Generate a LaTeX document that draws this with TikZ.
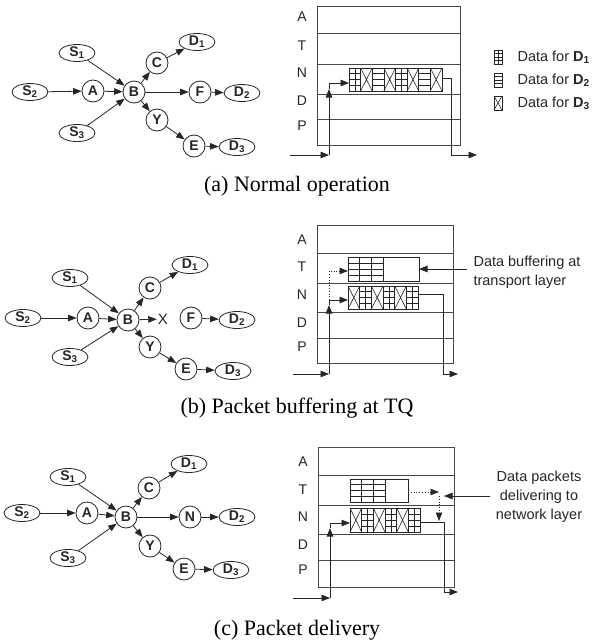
\documentclass[tikz,border=0pt]{standalone}
\usepackage{fontspec}
\setmainfont{Liberation Sans}
\newfontfamily\capfont{Liberation Serif}
\usetikzlibrary{arrows.meta,shapes.geometric}

% packet cells: x, y (top-left), width, height
\newcommand\cellH[4]{%
  \draw[cell] (#1,#2) rectangle ++(#3,#4);
  \foreach \k in {1,2,3}{\draw[cell] (#1,{#2+\k*#4/4}) -- ++(#3,0);}}
\newcommand\cellG[4]{%
  \cellH{#1}{#2}{#3}{#4}%
  \draw[cell] ({#1+#3/2},#2) -- ++(0,#4);}
\newcommand\cellX[4]{%
  \draw[cell] (#1,#2) rectangle ++(#3,#4);
  \draw[cell] (#1,#2) -- ++(#3,#4) (#1,{#2+#4}) -- ++(#3,-#4);}
% a row of cells: x, y, width, height, list of types
\newcommand\cellrow[5]{%
  \foreach \t [count=\i from 0] in {#5}{%
    \pgfmathsetmacro\xx{#1+\i*#3}%
    \csname cell\t\endcsname{\xx}{#2}{#3}{#4}}}

\begin{document}
\begin{tikzpicture}[x=1pt,y=-1pt,
  ink/.style={draw=black!85, line width=0.8pt},
  layer/.style={draw=black!72, line width=0.8pt},
  cell/.style={draw=black!85, line width=0.6pt},
  arr/.style={ink, -{Triangle[length=8.5pt,width=6.5pt]}},
  dotarr/.style={ink, dotted, -{Triangle[length=8.5pt,width=6.5pt,sep=0pt]}},
  circ/.style={circle, ink, minimum size=22pt, inner sep=0pt,
    font=\bfseries\fontsize{14}{14}\selectfont, text=black!85},
  ell/.style={ellipse, ink, minimum width=36pt, minimum height=17pt, inner sep=0pt,
    font=\bfseries\fontsize{14}{14}\selectfont, text=black!85},
  lay/.style={font=\fontsize{14}{14}\selectfont, text=black!85},
  note/.style={font=\fontsize{14.5}{19}\selectfont, text=black!85},
  captext/.style={font=\capfont\fontsize{22}{22}\selectfont}]
\useasboundingbox (0,0) rectangle (593,643);

% ---------------- (a) graph ----------------
\node[ell]  (aS1) at (77,53)  {S\textsubscript{1}};
\node[ell]  (aS2) at (30,92)  {S\textsubscript{2}};
\node[ell]  (aS3) at (77,133) {S\textsubscript{3}};
\node[circ] (aA)  at (93,91)  {A};
\node[circ] (aB)  at (134,92) {B};
\node[circ] (aC)  at (157,63) {C};
\node[ell]  (aD1) at (197,42) {D\textsubscript{1}};
\node[circ] (aF)  at (200,92) {F};
\node[ell]  (aD2) at (242,93) {D\textsubscript{2}};
\node[circ] (aY)  at (157,120) {Y};
\node[circ] (aE)  at (194,146) {E};
\node[ell]  (aD3) at (237,147) {D\textsubscript{3}};
\draw[arr] (aS2) -- (aA);
\draw[arr] (aA) -- (aB);
\draw[arr] (aS1) -- (aB);
\draw[arr] (aS3) -- (aB);
\draw[arr] (aB) -- (aC);
\draw[arr] (aC) -- (aD1);
\draw[arr] (aB) -- (aF);
\draw[arr] (aF) -- (aD2);
\draw[arr] (aB) -- (aY);
\draw[arr] (aY) -- (aE);
\draw[arr] (aE) -- (aD3);

% ---------------- (a) stack ----------------
\draw[layer] (317,6) rectangle (460,145);
\foreach \yy in {33,64,94,119} \draw[layer] (317,\yy) -- (460,\yy);
\node[lay] (aLA) at (302,17)  {A};
\node[lay] (aLT) at (302,46)  {T};
\node[lay] (aLN) at (302,73)  {N};
\node[lay] (aLD) at (302,101) {D};
\node[lay] (aLP) at (302,126) {P};
\cellrow{349}{68}{11.625}{23}{G,X,H,X,G,X,H,X}
\coordinate (aIn) at (290,155);
\coordinate (aTurn) at (329,155);
\coordinate (aUp) at (329,89);
\coordinate (aCorner) at (329,83);
\coordinate (aStripIn) at (349,83);
\coordinate (aStripOut) at (442,78);
\coordinate (aDown) at (451,155);
\coordinate (aOut) at (477,155);
\draw[arr] (aIn) -- (aTurn);
\draw[arr] (aTurn) -- (aUp);
\draw[arr] (aUp) -- (aCorner) -- (aStripIn);
\draw[arr] (aStripOut) -| (aDown) -- (aOut);

% legend
\cellG{494}{50}{8}{14}
\cellH{494}{73}{8}{14}
\cellX{494}{96}{8}{14}
\node[note, anchor=west] (lg1) at (514,57)  {Data for \textbf{D\textsubscript{1}}};
\node[note, anchor=west] (lg2) at (514,80)  {Data for \textbf{D\textsubscript{2}}};
\node[note, anchor=west] (lg3) at (514,103) {Data for \textbf{D\textsubscript{3}}};

\node[captext] (capa) at (297,186) {(a) Normal operation};

% ---------------- (b) graph ----------------
\node[ell]  (bS1) at (70,278)  {S\textsubscript{1}};
\node[ell]  (bS2) at (23,318)  {S\textsubscript{2}};
\node[ell]  (bS3) at (70,357)  {S\textsubscript{3}};
\node[circ] (bA)  at (88,318)  {A};
\node[circ] (bB)  at (128,320) {B};
\node[circ] (bC)  at (150,288) {C};
\node[ell]  (bD1) at (190,265) {D\textsubscript{1}};
\node[font=\fontsize{15}{15}\selectfont, text=black!85, inner sep=1pt] (bX) at (163,319) {X};
\node[circ] (bF)  at (191,318) {F};
\node[ell]  (bD2) at (237,320) {D\textsubscript{2}};
\node[circ] (bY)  at (150,347) {Y};
\node[circ] (bE)  at (186,369) {E};
\node[ell]  (bD3) at (233,371) {D\textsubscript{3}};
\draw[arr] (bS2) -- (bA);
\draw[arr] (bA) -- (bB);
\draw[arr] (bS1) -- (bB);
\draw[arr] (bS3) -- (bB);
\draw[arr] (bB) -- (bC);
\draw[arr] (bC) -- (bD1);
\draw[arr] (bB) -- (bX);
\draw[arr] (bF) -- (bD2);
\draw[arr] (bB) -- (bY);
\draw[arr] (bY) -- (bE);
\draw[arr] (bE) -- (bD3);

% ---------------- (b) stack ----------------
\draw[layer] (317,225) rectangle (453,363);
\foreach \yy in {253,283,312,338} \draw[layer] (317,\yy) -- (453,\yy);
\node[lay] (bLA) at (302,240) {A};
\node[lay] (bLT) at (302,267) {T};
\node[lay] (bLN) at (302,295) {N};
\node[lay] (bLD) at (302,323) {D};
\node[lay] (bLP) at (302,347) {P};
\draw[cell] (348,257) rectangle (419,281);
\cellrow{348}{257}{11.67}{24}{H,H,H}
\cellrow{348}{286}{11.67}{23}{X,G,X,G,X,G}
\coordinate (bIn) at (293,374);
\coordinate (bTurn) at (329,374);
\coordinate (bUp) at (329,305);
\coordinate (bCorner) at (329,300);
\coordinate (bStripIn) at (348,300);
\coordinate (bDotTop) at (329,271);
\coordinate (bBufIn) at (348,271);
\coordinate (bStripOut) at (418,294);
\coordinate (bDown) at (443,374);
\coordinate (bOut) at (458,374);
\coordinate (bNoteTail) at (467,269);
\coordinate (bBufOut) at (419,269);
\draw[arr] (bIn) -- (bTurn);
\draw[arr] (bTurn) -- (bUp);
\draw[arr] (bUp) -- (bCorner) -- (bStripIn);
\draw[dotarr] (bCorner) -- (bDotTop) -- (bBufIn);
\draw[arr] (bStripOut) -| (bDown) -- (bOut);
\draw[arr] (bNoteTail) -- (bBufOut);
\node[note, anchor=west, align=left] (bNote) at (470,272) {Data buffering at\\transport layer};

\node[captext] (capb) at (297,408) {(b) Packet buffering at TQ};

% ---------------- (c) graph ----------------
\node[ell]  (cS1) at (68,477)  {S\textsubscript{1}};
\node[ell]  (cS2) at (22,513)  {S\textsubscript{2}};
\node[ell]  (cS3) at (68,558)  {S\textsubscript{3}};
\node[circ] (cA)  at (87,513)  {A};
\node[circ] (cB)  at (126,517) {B};
\node[circ] (cC)  at (149,488) {C};
\node[ell]  (cD1) at (189,464) {D\textsubscript{1}};
\node[circ] (cN)  at (190,517) {N};
\node[ell]  (cD2) at (237,517) {D\textsubscript{2}};
\node[circ] (cY)  at (150,546) {Y};
\node[circ] (cE)  at (184,569) {E};
\node[ell]  (cD3) at (231,570) {D\textsubscript{3}};
\draw[arr] (cS2) -- (cA);
\draw[arr] (cA) -- (cB);
\draw[arr] (cS1) -- (cB);
\draw[arr] (cS3) -- (cB);
\draw[arr] (cB) -- (cC);
\draw[arr] (cC) -- (cD1);
\draw[arr] (cB) -- (cN);
\draw[arr] (cN) -- (cD2);
\draw[arr] (cB) -- (cY);
\draw[arr] (cY) -- (cE);
\draw[arr] (cE) -- (cD3);

% ---------------- (c) stack ----------------
\draw[layer] (318,447) rectangle (454,587);
\foreach \yy in {475,505,534,560} \draw[layer] (318,\yy) -- (454,\yy);
\node[lay] (cLA) at (303,462) {A};
\node[lay] (cLT) at (303,490) {T};
\node[lay] (cLN) at (303,517) {N};
\node[lay] (cLD) at (303,545) {D};
\node[lay] (cLP) at (303,570) {P};
\draw[cell] (350,479) rectangle (408,502);
\cellrow{350}{479}{11.67}{23}{H,H,H}
\cellrow{350}{508}{11.67}{24}{X,G,X,G,X,G}
\coordinate (cIn) at (293,598);
\coordinate (cTurn) at (330,598);
\coordinate (cUp) at (330,528);
\coordinate (cCorner) at (330,523);
\coordinate (cStripIn) at (350,523);
\coordinate (cStripOut) at (420,522);
\coordinate (cDown) at (444,592);
\coordinate (cOut) at (458,592);
\coordinate (cBufOut) at (408,492);
\coordinate (cDotEnd) at (439,492);
\coordinate (cDotTop) at (439,496);
\coordinate (cDotBot) at (439,521);
\coordinate (cNoteTail) at (490,496);
\coordinate (cNoteTip) at (444,496);
\draw[arr] (cIn) -- (cTurn);
\draw[arr] (cTurn) -- (cUp);
\draw[arr] (cUp) -- (cCorner) -- (cStripIn);
\draw[arr] (cStripOut) -| (cDown) -- (cOut);
\draw[dotarr] (cBufOut) -- (cDotEnd);
\draw[dotarr] (cDotTop) -- (cDotBot);
\draw[arr] (cNoteTail) -- (cNoteTip);
\node[note, align=center] (cNote) at (539,497) {Data packets\\delivering to\\network layer};

\node[captext] (capc) at (297,630) {(c) Packet delivery};
\end{tikzpicture}
\end{document}
